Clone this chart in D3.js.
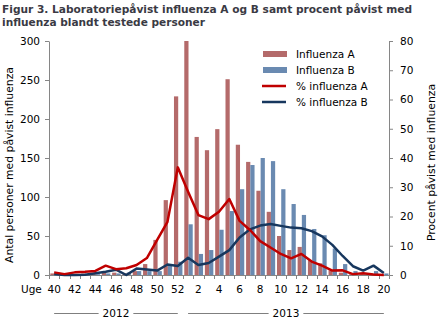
<!DOCTYPE html>
<html><head><meta charset="utf-8">
<script src="https://cdn.jsdelivr.net/npm/d3@7/dist/d3.min.js"></script>
<style>
body{margin:0;background:#fff}
svg{display:block}
text{font-family:"DejaVu Sans",Verdana,sans-serif}
</style>
</head><body>
<svg id="c" width="440" height="324"></svg>
<script>
// ---- data ----
const weeks = [40,41,42,43,44,45,46,47,48,49,50,51,52,1,2,3,4,5,6,7,8,9,10,11,12,13,14,15,16,17,18,19,20];
const years = ["2012","2013"];
const yearOfWeek = [0,0,0,0,0,0,0,0,0,0,0,0,0,1,1,1,1,1,1,1,1,1,1,1,1,1,1,1,1,1,1,1,1];
const influenzaA = [2,1,1,2,2,3,3,2,5,14,45,96,229,300,177,160,187,251,167,145,108,81,50,32,36,19,15,6,3,1,1,1,0];
const influenzaB = [1,0,1,0,1,2,2,3,5,5,5,14,17,65,27,32,58,82,110,141,150,146,110,91,77,59,51,34,14,5,1,5,2];
const pctA = [0.9,0.3,0.9,1.1,1.4,3.2,2.0,2.3,3.4,5.8,12,18.2,36.8,28.5,20.5,19.1,21.6,26,18.5,15.4,11.6,9.4,7.2,5.7,7.2,4.6,3.2,1.5,1.6,0.3,0.6,0.2,0];
const pctB = [0.3,0,0,0.1,0.6,1.1,1.8,0,2.2,1.9,1.5,3.6,3.1,5.9,3.4,4.1,6.3,8.5,12.8,15.6,16.9,17.4,16.8,16.2,16.0,15.0,13.2,10.3,6.5,3.0,1.5,3.2,0.7];
const leftTicks = [0,50,100,150,200,250,300];
const rightTicks = [0,10,20,30,40,50,60,70,80];
const seriesNames = ["Influenza A","Influenza B","% influenza A","% influenza B"];
const titleLines = ["Figur 3. Laboratoriepåvist influenza A og B samt procent påvist med","influenza blandt testede personer"];
const leftTitle = "Antal personer med påvist influenza";
const rightTitle = "Procent påvist med influenza";
const xTitle = "Uge";

// ---- styles ----
const colA = "#b46a6a", colB = "#6a8ab1", colLA = "#c00000", colLB = "#17375e";
const axisCol = "#868686", textCol = "#000";

const svg = d3.select("#c");
const idx = d3.range(weeks.length);
const x = d3.scaleBand().domain(idx).range([49,389]);
const bw = x.bandwidth();
const xs = d3.scaleBand().domain(["A","B"]).range([bw*0.13, bw*0.95]);
const yL = d3.scaleLinear().domain([0,300]).range([275,41]);
const yR = d3.scaleLinear().domain([0,80]).range([275,41]);

// title
titleLines.forEach((t,i)=>{
  svg.append("text").attr("x",2).attr("y",12.5+i*13)
    .attr("font-size",11.2).attr("font-weight","bold").attr("fill","#3a3a44")
    .attr("textLength", i===0?410:203).attr("lengthAdjust","spacingAndGlyphs")
    .text(t);
});

// bars
const g = svg.append("g");
g.selectAll("rect.a").data(idx).join("rect")
  .attr("x",i=>x(i)+xs("A")).attr("width",xs.bandwidth())
  .attr("y",i=>yL(influenzaA[i])).attr("height",i=>yL(0)-yL(influenzaA[i]))
  .attr("fill",colA);
g.selectAll("rect.b").data(idx).join("rect")
  .attr("x",i=>x(i)+xs("B")).attr("width",xs.bandwidth())
  .attr("y",i=>yL(influenzaB[i])).attr("height",i=>yL(0)-yL(influenzaB[i]))
  .attr("fill",colB);

// axes
const axL = svg.append("g").attr("transform","translate(49,0)")
  .call(d3.axisLeft(yL).tickValues(leftTicks).tickSize(4).tickSizeOuter(0).tickPadding(5));
const axR = svg.append("g").attr("transform","translate(389,0)")
  .call(d3.axisRight(yR).tickValues(rightTicks).tickSize(4).tickSizeOuter(0).tickPadding(7));
[axL,axR].forEach(a=>{
  a.selectAll("path,line").attr("stroke",axisCol);
  a.selectAll("text").attr("fill",textCol).attr("font-size",10.5).attr("font-family","DejaVu Sans");
});

// bottom axis
const xb = svg.append("g");
xb.append("line").attr("x1",49).attr("x2",389).attr("y1",275.5).attr("y2",275.5).attr("stroke",axisCol);
xb.selectAll("line.t").data(d3.range(weeks.length+1)).join("line")
  .attr("x1",i=>Math.round(49+i*x.step())+0.5).attr("x2",i=>Math.round(49+i*x.step())+0.5)
  .attr("y1",275).attr("y2",279).attr("stroke",axisCol);
xb.selectAll("text.t").data(idx.filter(i=>weeks[i]%2===0)).join("text")
  .attr("x",i=>x(i)+bw/2).attr("y",292.5).attr("text-anchor","middle")
  .attr("font-size",10.5).attr("fill",textCol).text(i=>weeks[i]);
svg.append("text").attr("x",21).attr("y",292.5).attr("font-size",10.5).attr("fill",textCol).text(xTitle);

// years
years.forEach((yr,k)=>{
  const ids = idx.filter(i=>yearOfWeek[i]===k);
  const s = x(ids[0])+bw/2, e = x(ids[ids.length-1])+bw/2, m=(s+e)/2;
  const t = svg.append("text").attr("x",m).attr("y",317).attr("text-anchor","middle")
    .attr("font-size",10.5).attr("fill",textCol).text(yr);
  const w = t.node().getComputedTextLength();
  svg.append("line").attr("x1",s).attr("x2",m-w/2-4).attr("y1",313.5).attr("y2",313.5).attr("stroke","#7f7f7f");
  svg.append("line").attr("x1",m+w/2+4).attr("x2",e).attr("y1",313.5).attr("y2",313.5).attr("stroke","#7f7f7f");
});

// lines
const line = arr => d3.line().x(i=>x(i)+bw/2).y(i=>yR(arr[i]))(idx);
svg.append("path").attr("d",line(pctB)).attr("fill","none").attr("stroke",colLB).attr("stroke-width",2.5).attr("stroke-linejoin","round");
svg.append("path").attr("d",line(pctA)).attr("fill","none").attr("stroke",colLA).attr("stroke-width",2.5).attr("stroke-linejoin","round");

// axis titles
svg.append("text").attr("transform","translate(12.5,165) rotate(-90)").attr("text-anchor","middle")
  .attr("font-size",10.8).attr("fill",textCol).text(leftTitle);
svg.append("text").attr("transform","translate(435,162.5) rotate(-90)").attr("text-anchor","middle")
  .attr("font-size",10.8).attr("fill",textCol).text(rightTitle);

// legend
const lg = svg.append("g");
const ly = [54,70,86,102];
lg.append("rect").attr("x",263).attr("y",ly[0]-3).attr("width",24).attr("height",6).attr("fill",colA);
lg.append("rect").attr("x",263).attr("y",ly[1]-3).attr("width",24).attr("height",6).attr("fill",colB);
lg.append("line").attr("x1",262).attr("x2",286).attr("y1",ly[2]).attr("y2",ly[2]).attr("stroke",colLA).attr("stroke-width",2.5);
lg.append("line").attr("x1",262).attr("x2",286).attr("y1",ly[3]).attr("y2",ly[3]).attr("stroke",colLB).attr("stroke-width",2.5);
seriesNames.forEach((n,i)=>{
  lg.append("text").attr("x",296).attr("y",ly[i]+3.8).attr("font-size",10.5).attr("fill",textCol).text(n);
});
</script>
</body></html>
